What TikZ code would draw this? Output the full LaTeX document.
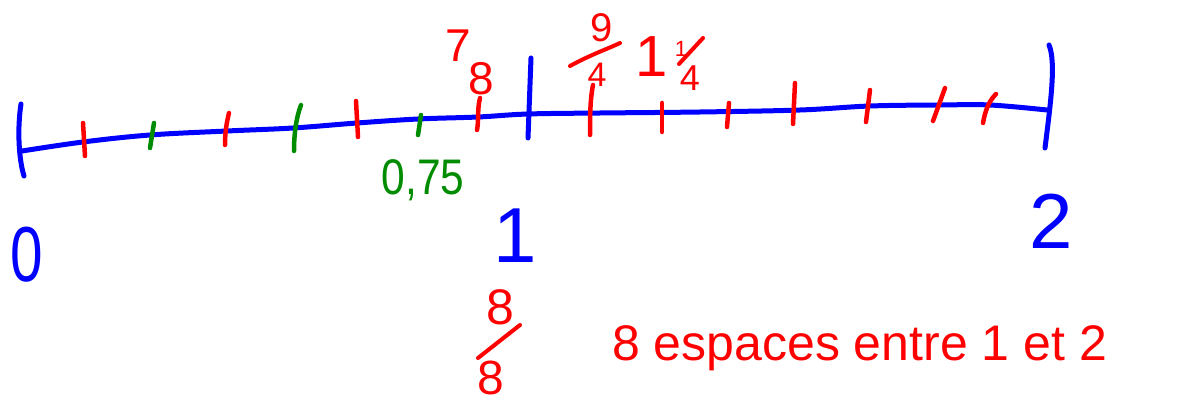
\documentclass[tikz,border=0pt]{standalone}
\usepackage{fontspec}
\setmainfont{Liberation Sans}
\definecolor{penblue}{RGB}{0,0,255}
\definecolor{penred}{RGB}{255,0,0}
\definecolor{pengreen}{RGB}{0,140,0}
\newcommand{\fs}[1]{\fontsize{#1}{#1}\selectfont}
\begin{document}
\begin{tikzpicture}[x=1pt,y=-1pt,line cap=round,line join=round,
  axisline/.style={draw=penblue,line width=5pt},
  redtick/.style={draw=penred,line width=4.5pt},
  greentick/.style={draw=pengreen,line width=4.5pt},
  fracbar/.style={draw=penred,line width=4pt},
  bluelbl/.style={text=penblue,inner sep=0pt,font=\fs{78}},
  redlbl/.style={text=penred,inner sep=0pt},
  greenlbl/.style={text=pengreen,inner sep=0pt,font=\fs{50}}]
\useasboundingbox (0,0) rectangle (1188,403);
% main line
\draw[axisline] plot[smooth,tension=0.6] coordinates {(22,151) (83,142) (150,135) (227,131) (293,128) (357,123) (418,119) (478,117) (528,114) (600,113) (700,112) (800,110) (870,106) (940,105) (990,105) (1047,110)};
% end bars
\draw[axisline] (21,104) .. controls (17,130) and (19,160) .. (24,176);
\draw[axisline] (531,58) -- (528,138);
\draw[axisline] (1049,45) .. controls (1056,62) and (1051,100) .. (1045,148);
% red ticks 0..1
\draw[redtick] (83,123) -- (85,156);
\draw[redtick] (229,113) .. controls (226,125) and (225,135) .. (225,145);
\draw[redtick] (356,101) -- (358,137);
\draw[redtick] (480,98) .. controls (477,110) and (479,120) .. (477,130);
% green ticks
\draw[greentick] (154,123) -- (150,148);
\draw[greentick] (301,105) .. controls (296,118) and (294,135) .. (294,151);
\draw[greentick] (421,115) -- (418,135);
% red ticks 1..2
\draw[redtick] (593,85) .. controls (590,100) and (590,118) .. (590,135);
\draw[redtick] (662,103) -- (662,132);
\draw[redtick] (729,103) -- (727,127);
\draw[redtick] (795,83) -- (793,124);
\draw[redtick] (870,90) -- (866,122);
\draw[redtick] (945,88) -- (933,121);
\draw[redtick] (996,94) .. controls (988,102) and (985,112) .. (983,123);
% blue labels
\node[bluelbl] (l0) at (27,255) {\scalebox{0.75}[1]{0}};
\node[bluelbl] (l1) at (515,236) {1};
\node[bluelbl] (l2) at (1051,221) {2};
% green label
\node[greenlbl] (g075) at (423,180) {\scalebox{0.85}[1]{0,75}};
% 7/8
\node[redlbl,font=\fs{46}] (n7) at (458,46) {7};
\node[redlbl,font=\fs{46}] (d8) at (481,79) {8};
% 9/4
\node[redlbl,font=\fs{40}] (n9) at (602,28) {9};
\draw[fracbar] (570,66) .. controls (590,55) and (605,50) .. (620,43);
\node[redlbl,font=\fs{34}] (d4) at (597,75) {4};
% 1 1/4
\node[redlbl,font=\fs{58}] (w1) at (652,57) {1};
\node[redlbl,font=\fs{22}] (q1) at (681,49) {1};
\draw[fracbar] (703,38) -- (679,64);
\node[redlbl,font=\fs{36}] (q4) at (690,78) {4};
% 8/8
\node[redlbl,font=\fs{50}] (e8a) at (500,307) {8};
\draw[fracbar] (520,325) -- (478,358);
\node[redlbl,font=\fs{48}] (e8b) at (491,378) {8};
% sentence
\node[redlbl,font=\fs{50},anchor=base west] (txt) at (612,360) {8 espaces entre 1 et 2};
\end{tikzpicture}
\end{document}
